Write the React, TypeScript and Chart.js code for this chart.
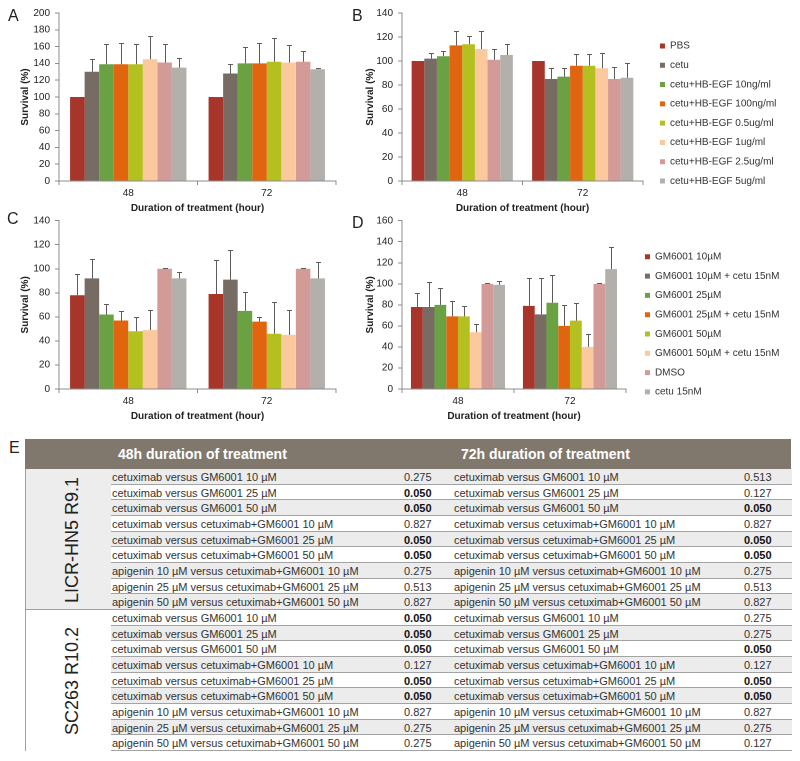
import React, { useEffect, useRef } from 'react';
import { Chart, registerables } from 'chart.js';

Chart.register(...registerables);

const FONT = '"Liberation Sans", Arial, Helvetica, sans-serif';

// ---------- data ----------
const durations = ['48', '72'];

const hbegfSeries = [
  'PBS',
  'cetu',
  'cetu+HB-EGF 10ng/ml',
  'cetu+HB-EGF 100ng/ml',
  'cetu+HB-EGF 0.5ug/ml',
  'cetu+HB-EGF 1ug/ml',
  'cetu+HB-EGF 2.5ug/ml',
  'cetu+HB-EGF 5ug/ml',
];

const gmSeries = [
  'GM6001 10\u00b5M',
  'GM6001 10\u00b5M + cetu 15nM',
  'GM6001 25\u00b5M',
  'GM6001 25\u00b5M + cetu 15nM',
  'GM6001 50\u00b5M',
  'GM6001 50\u00b5M + cetu 15nM',
  'DMSO',
  'cetu 15nM',
];

const seriesColors = ['#a8352a', '#776c63', '#6aa243', '#e1640f', '#b4bf20', '#fcc89e', '#d39b98', '#b3afaa'];

// Panel A (HB-EGF, first cell line)
const panelA48 = [100, 130, 139, 139, 139, 145, 141, 135];
const panelA48Err = [0.3, 15, 24, 25, 24, 28, 22, 11];
const panelA72 = [100, 128, 140, 140, 142, 141, 142, 133];
const panelA72Err = [0.3, 11, 19, 24, 28, 21, 13, 2];

// Panel B (HB-EGF, second cell line)
const panelB48 = [100, 102, 104, 113, 114, 110, 101, 105];
const panelB48Err = [0.3, 5, 4, 12, 7, 15, 9, 9];
const panelB72 = [100, 85, 87, 96, 96, 94, 85, 86];
const panelB72Err = [0.3, 9, 7, 10, 10, 13, 10, 12];

// Panel C (GM6001, first cell line)
const panelC48 = [78, 92, 62, 57, 48, 49, 100, 92];
const panelC48Err = [18, 16, 9, 8, 12, 17, 0.3, 5];
const panelC72 = [79, 91, 65, 56, 46, 45, 100, 92];
const panelC72Err = [28, 25, 16, 4, 26, 21, 0.3, 14];

// Panel D (GM6001, second cell line)
const panelD48 = [78, 78, 80, 69, 69, 54, 100, 99];
const panelD48Err = [13, 24, 16, 15, 10, 8, 0.3, 4];
const panelD72 = [79, 71, 82, 60, 65, 40, 100, 114];
const panelD72Err = [27, 35, 26, 20, 17, 12, 0.3, 21];

// Panel E table
const comparisons = [
  'cetuximab versus GM6001 10 \u00b5M',
  'cetuximab versus GM6001 25 \u00b5M',
  'cetuximab versus GM6001 50 \u00b5M',
  'cetuximab versus cetuximab+GM6001 10 \u00b5M',
  'cetuximab versus cetuximab+GM6001 25 \u00b5M',
  'cetuximab versus cetuximab+GM6001 50 \u00b5M',
  'apigenin 10 \u00b5M versus cetuximab+GM6001 10 \u00b5M',
  'apigenin 25 \u00b5M versus cetuximab+GM6001 25 \u00b5M',
  'apigenin 50 \u00b5M versus cetuximab+GM6001 50 \u00b5M',
];
const cellLines = ['LICR-HN5 R9.1', 'SC263 R10.2'];
const licrP48 = ['0.275', '0.050', '0.050', '0.827', '0.050', '0.050', '0.275', '0.513', '0.827'];
const licrP72 = ['0.513', '0.127', '0.050', '0.827', '0.050', '0.050', '0.275', '0.513', '0.827'];
const scP48 = ['0.050', '0.050', '0.050', '0.127', '0.050', '0.050', '0.827', '0.275', '0.275'];
const scP72 = ['0.275', '0.275', '0.050', '0.127', '0.050', '0.050', '0.827', '0.275', '0.127'];
const headers = ['48h duration of treatment', '72h duration of treatment'];

// ---------- error bar plugin ----------
const errorBarPlugin = {
  id: 'errorBars',
  afterDatasetsDraw(chart: any) {
    const ctx = chart.ctx;
    const yScale = chart.scales.y;
    chart.data.datasets.forEach((ds: any, di: number) => {
      const meta = chart.getDatasetMeta(di);
      if (meta.hidden) return;
      meta.data.forEach((bar: any, i: number) => {
        const v = ds.data[i];
        const e = ds.errors[i];
        const x = Math.round(bar.x);
        const yTop = Math.round(yScale.getPixelForValue(v + e)) + 0.5;
        const yBase = yScale.getPixelForValue(v);
        ctx.save();
        ctx.strokeStyle = '#5c5c5c';
        ctx.lineWidth = 1;
        ctx.beginPath();
        ctx.moveTo(x + 0.5, yBase);
        ctx.lineTo(x + 0.5, yTop);
        ctx.moveTo(x - 2, yTop);
        ctx.lineTo(x + 3, yTop);
        ctx.stroke();
        ctx.restore();
      });
    });
  },
};

type PanelProps = {
  left: number;
  top: number;
  width: number;
  height: number;
  series: string[];
  v48: number[];
  e48: number[];
  v72: number[];
  e72: number[];
  yMax: number;
  yAxisWidth: number;
  padTop: number;
  padRight: number;
  showLegend: boolean;
  legendGap: number;
  legendShift: number;
};

function BarPanel(p: PanelProps) {
  const ref = useRef<HTMLCanvasElement>(null);
  useEffect(() => {
    if (!ref.current) return;
    const datasets = p.series.map((name, i) => ({
      label: name,
      data: [p.v48[i], p.v72[i]],
      errors: [p.e48[i], p.e72[i]],
      backgroundColor: seriesColors[i],
      borderWidth: 0,
      categoryPercentage: 0.84,
      barPercentage: 1,
    }));
    const axisColor = '#8c8c8c';
    const scales: any = {
      x: {
        type: 'category',
        offset: true,
        grid: { display: true, offset: true, drawOnChartArea: false, drawTicks: true, tickLength: 4, color: axisColor },
        border: { display: true, color: axisColor },
        ticks: { color: '#222', font: { family: FONT, size: 10 }, padding: 2, maxRotation: 0 },
        title: {
          display: true,
          text: 'Duration of treatment (hour)',
          color: '#222',
          font: { family: FONT, size: 10, weight: 'bold' },
          padding: { top: 0, bottom: 0 },
        },
        afterFit: (s: any) => {
          s.height = 33;
        },
      },
      y: {
        type: 'linear',
        position: 'left',
        min: 0,
        max: p.yMax,
        ticks: { stepSize: 20, color: '#222', font: { family: FONT, size: 10 }, padding: 5 },
        grid: { display: true, drawOnChartArea: false, drawTicks: true, tickLength: 4, color: axisColor },
        border: { display: true, color: axisColor },
        title: {
          display: true,
          text: 'Survival (%)',
          color: '#222',
          font: { family: FONT, size: 10, weight: 'bold' },
          padding: { top: 19, bottom: 0 },
        },
        afterFit: (s: any) => {
          s.width = p.yAxisWidth;
        },
      },
    };
    if (p.showLegend) {
      scales.gap = {
        type: 'linear',
        position: 'right',
        display: true,
        grid: { display: false },
        border: { display: false },
        ticks: { display: false },
        afterFit: (s: any) => {
          s.width = p.legendGap;
        },
      };
    }
    const legendTitle =
      p.legendShift > 0
        ? { display: true, text: ' ', padding: 0, font: { family: FONT, size: (2 * p.legendShift) / 1.2 } }
        : { display: false };
    const chart = new Chart(ref.current, {
      type: 'bar',
      data: { labels: durations, datasets: datasets as any },
      options: {
        responsive: false,
        animation: false,
        devicePixelRatio: 2,
        layout: { padding: { top: p.padTop, right: p.padRight, bottom: 0, left: 0 } },
        scales,
        plugins: {
          tooltip: { enabled: false },
          legend: {
            display: p.showLegend,
            position: 'right',
            align: 'center',
            maxWidth: 300,
            title: legendTitle,
            labels: {
              boxWidth: 5,
              boxHeight: 5,
              padding: 9.3,
              color: '#333',
              font: { family: FONT, size: 10 },
            },
          },
        },
      } as any,
      plugins: [errorBarPlugin],
    });
    return () => chart.destroy();
  }, []);
  return (
    <canvas
      ref={ref}
      width={p.width}
      height={p.height}
      style={{ position: 'absolute', left: p.left, top: p.top, width: p.width, height: p.height }}
    />
  );
}

function PanelLabel({ text, left, top }: { text: string; left: number; top: number }) {
  return (
    <div
      style={{
        position: 'absolute',
        left,
        top,
        fontFamily: FONT,
        fontSize: 16,
        lineHeight: '16px',
        color: '#222',
      }}
    >
      {text}
    </div>
  );
}

function StatsTable() {
  const tableLeft = 25;
  const tableTop = 439;
  const tableW = 766;
  const headerH = 30;
  const rowH = 282 / 18;
  const firstColW = 85;
  const groups = [
    { name: cellLines[0], p48: licrP48, p72: licrP72, bg: '#ededed' },
    { name: cellLines[1], p48: scP48, p72: scP72, bg: '#ffffff' },
  ];
  const rows: any[] = [];
  groups.forEach((g, gi) => {
    comparisons.forEach((c, ci) => {
      const r = gi * 9 + ci;
      const pStyle = (v: string) => ({
        position: 'absolute' as const,
        top: 0,
        fontWeight: v === '0.050' ? 'bold' : 'normal',
        color: v === '0.050' ? '#111' : '#333',
      });
      rows.push(
        <div
          key={'r' + r}
          style={{
            position: 'absolute',
            left: firstColW,
            top: headerH + r * rowH,
            width: tableW - firstColW,
            height: rowH,
            background: r % 2 === 0 ? '#ececec' : '#ffffff',
            borderBottom: '1px solid #a3a3a3',
            boxSizing: 'border-box',
            fontSize: 11,
            lineHeight: rowH + 1 + 'px',
            color: '#333',
          }}
        >
          <span style={{ position: 'absolute', left: 1, top: 0 }}>{c}</span>
          <span style={{ ...pStyle(g.p48[ci]), left: 293 }}>{g.p48[ci]}</span>
          <span style={{ position: 'absolute', left: 343, top: 0 }}>{c}</span>
          <span style={{ ...pStyle(g.p72[ci]), left: 633 }}>{g.p72[ci]}</span>
        </div>
      );
    });
  });
  return (
    <div
      style={{
        position: 'absolute',
        left: tableLeft,
        top: tableTop,
        width: tableW,
        height: 312,
        fontFamily: FONT,
        boxSizing: 'border-box',
        border: '1px solid #a0a0a0',
        borderTop: 'none',
      }}
    >
      <div
        style={{
          position: 'absolute',
          left: -1,
          top: 0,
          width: tableW,
          height: headerH,
          background: '#80786c',
          color: '#fff',
          fontWeight: 'bold',
          fontSize: 14,
          lineHeight: headerH + 'px',
        }}
      >
        <span style={{ position: 'absolute', left: 93 }}>{headers[0]}</span>
        <span style={{ position: 'absolute', left: 436 }}>{headers[1]}</span>
      </div>
      {groups.map((g, gi) => (
        <div
          key={'g' + gi}
          style={{
            position: 'absolute',
            left: 0,
            top: headerH + gi * 9 * rowH,
            width: firstColW,
            height: 9 * rowH,
            background: g.bg,
          }}
        >
          <div
            style={{
              position: 'absolute',
              left: '54%',
              top: '50%',
              transform: 'translate(-50%, -50%) rotate(-90deg)',
              whiteSpace: 'nowrap',
              fontSize: 18,
              color: '#222',
            }}
          >
            {g.name}
          </div>
        </div>
      ))}
      {rows}
      <div
        style={{
          position: 'absolute',
          left: 0,
          top: headerH + 9 * rowH - 1,
          width: tableW - 2,
          height: 0,
          borderTop: '1px solid #a0a0a0',
        }}
      />
    </div>
  );
}

export default function App() {
  return (
    <div
      style={{
        position: 'absolute',
        left: 0,
        top: 0,
        width: 800,
        height: 761,
        background: '#fff',
        overflow: 'hidden',
      }}
    >
      <BarPanel
        left={0}
        top={0}
        width={345}
        height={214}
        series={hbegfSeries}
        v48={panelA48}
        e48={panelA48Err}
        v72={panelA72}
        e72={panelA72Err}
        yMax={200}
        yAxisWidth={59}
        padTop={13}
        padRight={9}
        showLegend={false}
        legendGap={0}
        legendShift={0}
      />
      <BarPanel
        left={345}
        top={0}
        width={455}
        height={214}
        series={hbegfSeries}
        v48={panelB48}
        e48={panelB48Err}
        v72={panelB72}
        e72={panelB72Err}
        yMax={140}
        yAxisWidth={57}
        padTop={13}
        padRight={13.6}
        showLegend={true}
        legendGap={7.7}
        legendShift={0}
      />
      <BarPanel
        left={0}
        top={205}
        width={345}
        height={217}
        series={gmSeries}
        v48={panelC48}
        e48={panelC48Err}
        v72={panelC72}
        e72={panelC72Err}
        yMax={140}
        yAxisWidth={59}
        padTop={15.7}
        padRight={9}
        showLegend={false}
        legendGap={0}
        legendShift={0}
      />
      <BarPanel
        left={345}
        top={205}
        width={455}
        height={217}
        series={gmSeries}
        v48={panelD48}
        e48={panelD48Err}
        v72={panelD72}
        e72={panelD72Err}
        yMax={160}
        yAxisWidth={57}
        padTop={15.7}
        padRight={10.6}
        showLegend={true}
        legendGap={9.7}
        legendShift={3}
      />
      <PanelLabel text="A" left={8} top={8} />
      <PanelLabel text="B" left={352} top={8} />
      <PanelLabel text="C" left={7} top={211} />
      <PanelLabel text="D" left={352} top={215} />
      <PanelLabel text="E" left={9} top={440} />
      <StatsTable />
    </div>
  );
}
